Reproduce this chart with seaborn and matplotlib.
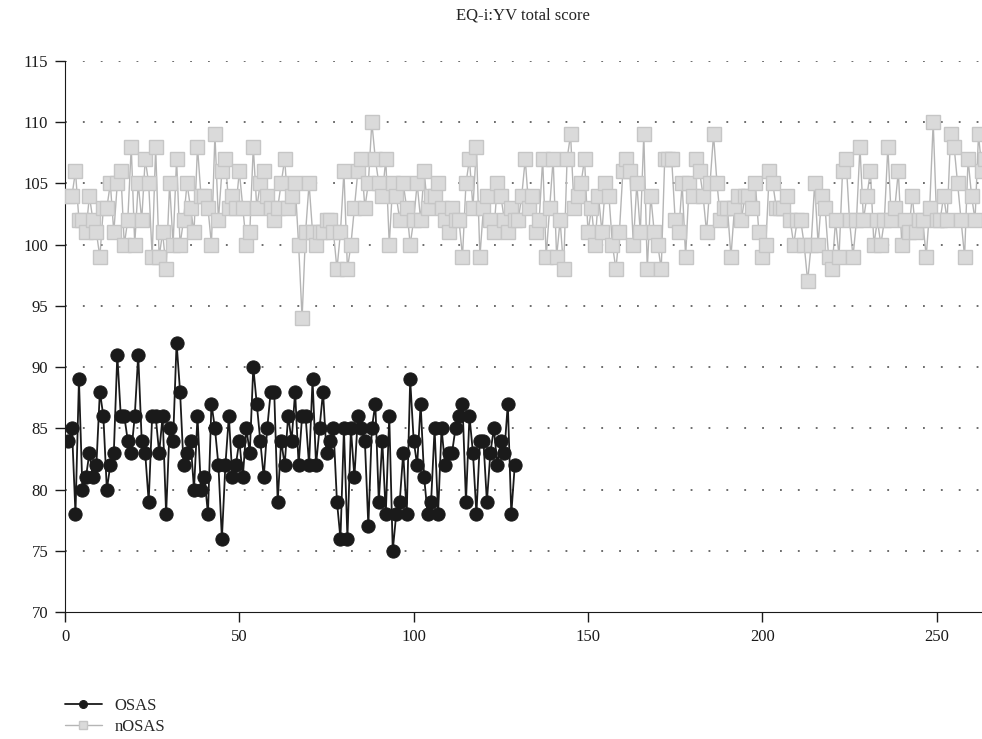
import numpy as np
import pandas as pd
import matplotlib
matplotlib.use("Agg")
import matplotlib.pyplot as plt
import seaborn as sns

# EQ-i:YV total score per subject
osas_scores = [84, 85, 78, 89, 80, 81, 83, 81, 82, 88, 86, 80, 82, 83, 91, 86, 86, 84, 83, 86,
               91, 84, 83, 79, 86, 86, 83, 86, 78, 85, 84, 92, 88, 82, 83, 84, 80, 86, 80, 81,
               78, 87, 85, 82, 76, 82, 86, 81, 82, 84, 81, 85, 83, 90, 87, 84, 81, 85, 88, 88,
               79, 84, 82, 86, 84, 88, 82, 86, 86, 82, 89, 82, 85, 88, 83, 84, 85, 79, 76, 85,
               76, 85, 81, 86, 85, 84, 77, 85, 87, 79, 84, 78, 86, 75, 78, 79, 83, 78, 89, 84,
               82, 87, 81, 78, 79, 85, 78, 85, 82, 83, 83, 85, 86, 87, 79, 86, 83, 78, 84, 84,
               79, 83, 85, 82, 84, 83, 87, 78, 82]

nosas_scores = [104, 104, 106, 102, 102, 101, 104, 102, 101, 99, 103, 103, 105, 101, 105, 106, 100, 102, 108, 100,
                105, 102, 107, 105, 99, 108, 99, 101, 98, 105, 100, 107, 100, 102, 105, 103, 101, 108, 104, 104,
                103, 100, 109,
                102, 106, 107, 103, 104, 103, 106, 103, 100, 101, 108, 103, 105, 106, 104, 103, 102, 103, 105, 107,
                103, 104, 105, 100, 94, 101, 105, 101, 100, 101, 101, 102, 102, 101, 98, 101, 106, 98, 100, 103,
                106, 107,
                103, 105, 110, 107, 105, 104, 107, 100, 105, 104, 102, 105, 103, 100, 102, 105, 102, 106, 103, 104,
                104, 105, 103, 102, 101, 103, 102, 102, 99, 105, 107, 103, 108, 99, 103, 104, 102, 101, 105, 104,
                102, 101, 103, 102,
                102, 104, 107, 103, 104, 101, 102, 107, 99, 103, 107, 99, 102, 98, 107, 109, 103, 104, 105, 107,
                101, 103, 100, 104, 101, 105, 104, 100, 98, 101, 106, 107, 106, 100, 105, 101, 109, 98, 104, 101,
                100, 98, 107,
                107, 107, 102, 101, 105, 99, 105, 104, 107, 106, 104, 101, 105, 109, 105, 102, 103, 103, 99, 103,
                104, 102, 104, 104, 103, 105, 101, 99, 100, 106, 105, 103, 103, 103, 104, 102, 100, 102, 102, 100,
                97,
                100, 105, 100, 104, 103, 99, 98, 102, 99, 106, 107, 102, 99, 102, 108, 102, 104, 106, 100, 102,
                100, 102, 108, 102, 103, 106, 100, 102, 101, 104, 101, 102, 102, 99, 103, 110, 102, 102, 104, 102,
                109, 108, 105, 102, 99, 107, 104, 102, 109, 106, 107]

y_ticks = [70, 75, 80, 85, 90, 95, 100, 105, 110, 115]
x_ticks = [0, 50, 100, 150, 200, 250]

osas = pd.DataFrame({"subject": np.arange(1, len(osas_scores) + 1), "score": osas_scores})
nosas = pd.DataFrame({"subject": np.arange(1, len(nosas_scores) + 1), "score": nosas_scores})

sns.set_style("ticks")
plt.rcParams["font.family"] = ["Liberation Serif", "DejaVu Serif"]

fig = plt.figure(figsize=(9.82, 7.39), dpi=100)
ax = fig.add_axes([65 / 982, 1 - 612 / 739, 1 - 65 / 982, (612 - 61) / 739])

sns.lineplot(data=osas, x="subject", y="score", ax=ax, color="#1a1a1a", linewidth=1.3,
             marker="o", markersize=9.5, markeredgecolor="#1a1a1a", label="OSAS", zorder=3)
sns.lineplot(data=nosas, x="subject", y="score", ax=ax, color="#b5b5b5", linewidth=1.0,
             marker="s", markersize=9.5, markerfacecolor="#dadada", markeredgecolor="#c6c6c6",
             markeredgewidth=1.0, label="nOSAS", zorder=3)

ax.set_xlim(0, 263)
ax.set_ylim(70, 115)
ax.set_yticks(y_ticks)
ax.set_xticks(x_ticks)
for yv in y_ticks[1:]:
    ax.axhline(yv, color="#444444", linestyle=(0, (1.2, 10.5)), linewidth=1.1, zorder=1)

sns.despine(ax=ax)
ax.spines["left"].set_color("#1a1a1a")
ax.spines["bottom"].set_color("#1a1a1a")
ax.tick_params(axis="both", length=7, width=1, labelsize=12, colors="#1a1a1a", pad=5)
ax.set_xlabel("")
ax.set_ylabel("")

fig.text(523 / 982, 1 - 15 / 739, "EQ-i:YV total score", ha="center", va="center", fontsize=12)

ax.get_legend().remove()
handles, labels = ax.get_legend_handles_labels()
fig.legend(handles, labels, loc="lower left", bbox_to_anchor=(0.055, -0.009), frameon=False,
           fontsize=12, handlelength=2.2, handletextpad=0.8, labelspacing=0.3,
           borderaxespad=0.25, markerscale=0.6)

fig.savefig("out.png", dpi=100)
plt.close(fig)
